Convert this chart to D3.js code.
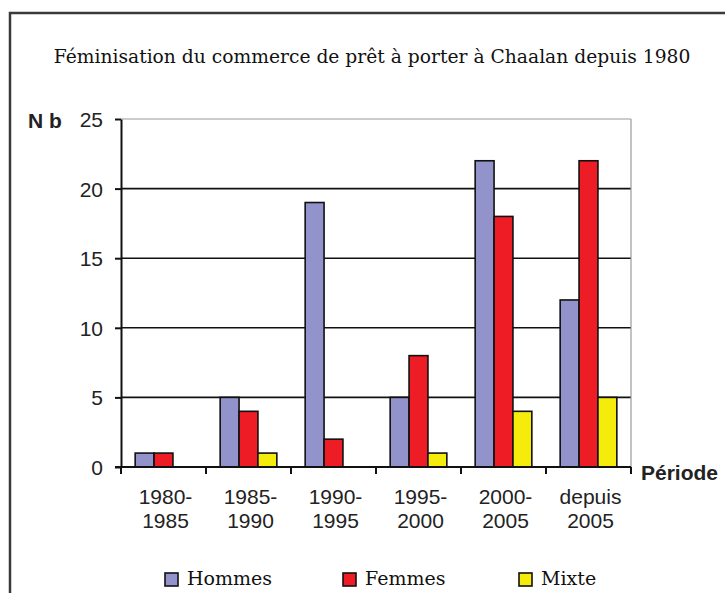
<!DOCTYPE html>
<html>
<head>
<meta charset="utf-8">
<script src="https://cdn.jsdelivr.net/npm/d3@7/dist/d3.min.js"></script>
<style>
  body { margin: 0; background: #fff; }
  svg { display: block; }
  .tick-label { font-family: "Liberation Sans", Arial, sans-serif; font-size: 21px; fill: #222; }
  .serif { font-family: "DejaVu Serif", serif; fill: #111; }
  .bold-label { font-family: "Liberation Sans", Arial, sans-serif; font-size: 21px; font-weight: bold; fill: #222; }
</style>
</head>
<body>
<div id="chart"></div>
<script>
// Data
const periods = ["1980-1985", "1985-1990", "1990-1995", "1995-2000", "2000-2005", "depuis 2005"];
const labelTop = ["1980-", "1985-", "1990-", "1995-", "2000-", "depuis"];
const labelBottom = ["1985", "1990", "1995", "2000", "2005", "2005"];
const series = ["Hommes", "Femmes", "Mixte"];
const hommes = [1, 5, 19, 5, 22, 12];
const femmes = [1, 4, 2, 8, 18, 22];
const mixte = [0, 1, 0, 1, 4, 5];
const yTicks = [0, 5, 10, 15, 20, 25];
const colors = ["#9393cb", "#ee1c24", "#f5ec0c"];

const W = 725, H = 593;
const plot = {left: 121, right: 631, top: 119, bottom: 467};

const svg = d3.select("#chart").append("svg")
    .attr("width", W)
    .attr("height", H);

// outer frame (only top and left edges are visible in the picture)
svg.append("path")
    .attr("d", `M10,${H + 5}V13H${W + 5}`)
    .attr("fill", "none")
    .attr("stroke", "#3a3a3a")
    .attr("stroke-width", 2.5);

// Title
svg.append("text")
    .attr("class", "serif")
    .attr("x", 372)
    .attr("y", 63)
    .attr("text-anchor", "middle")
    .style("font-size", "18.7px")
    .text("Féminisation du commerce de prêt à porter à Chaalan depuis 1980");

// Scales
const x = d3.scaleBand()
    .domain(periods)
    .range([plot.left, plot.right])
    .paddingInner(0)
    .paddingOuter(0);

const xs = d3.scaleBand()
    .domain(series)
    .range([0, x.bandwidth()])
    .paddingInner(0)
    .paddingOuter(0.75);

const y = d3.scaleLinear()
    .domain([0, 25])
    .range([plot.bottom, plot.top]);

// Gridlines
svg.append("g")
    .selectAll("line")
    .data(yTicks.filter(d => d > 0))
    .enter().append("line")
    .attr("x1", plot.left)
    .attr("x2", plot.right)
    .attr("y1", d => y(d))
    .attr("y2", d => y(d))
    .attr("stroke", d => d === 25 ? "#9a9a9a" : "#111")
    .attr("stroke-width", d => d === 25 ? 1.2 : 1.6);

// right border of plot area
svg.append("line")
    .attr("x1", plot.right)
    .attr("x2", plot.right)
    .attr("y1", y(25))
    .attr("y2", y(0))
    .attr("stroke", "#9a9a9a")
    .attr("stroke-width", 1.2);

// Bars
const data = periods.map((p, i) => ({period: p, values: [hommes[i], femmes[i], mixte[i]]}));

const groups = svg.append("g")
    .selectAll("g")
    .data(data)
    .enter().append("g")
    .attr("transform", d => `translate(${x(d.period)},0)`);

groups.selectAll("rect")
    .data(d => d.values.map((v, j) => ({key: series[j], value: v, color: colors[j]})).filter(b => b.value > 0))
    .enter().append("rect")
    .attr("x", d => xs(d.key))
    .attr("width", xs.bandwidth())
    .attr("y", d => y(d.value))
    .attr("height", d => y(0) - y(d.value))
    .attr("fill", d => d.color)
    .attr("stroke", "#111")
    .attr("stroke-width", 1.6);

// Y axis
const yAxis = svg.append("g")
    .attr("transform", `translate(${plot.left},0)`)
    .call(d3.axisLeft(y).tickValues(yTicks).tickSize(6).tickSizeOuter(0).tickPadding(12));
yAxis.select(".domain").attr("stroke", "#111").attr("stroke-width", 2);
yAxis.selectAll(".tick line").attr("stroke", "#111").attr("stroke-width", 2);
yAxis.selectAll(".tick text")
    .attr("class", "tick-label")
    .attr("dy", "0.36em");
yAxis.attr("font-family", null).attr("font-size", null);

// X axis: ticks on band boundaries
svg.append("line")
    .attr("x1", plot.left - 6)
    .attr("x2", plot.right)
    .attr("y1", y(0))
    .attr("y2", y(0))
    .attr("stroke", "#111")
    .attr("stroke-width", 2);

svg.append("g")
    .selectAll("line")
    .data(periods.concat(["end"]))
    .enter().append("line")
    .attr("x1", (d, i) => i < periods.length ? x(d) : plot.right)
    .attr("x2", (d, i) => i < periods.length ? x(d) : plot.right)
    .attr("y1", y(0))
    .attr("y2", y(0) + 7)
    .attr("stroke", "#111")
    .attr("stroke-width", 2);

const xLabels = svg.append("g")
    .selectAll("text")
    .data(periods)
    .enter().append("text")
    .attr("class", "tick-label")
    .attr("text-anchor", "middle")
    .attr("x", d => x(d) + x.bandwidth() / 2 + 2);
xLabels.append("tspan")
    .attr("x", d => x(d) + x.bandwidth() / 2 + 2)
    .attr("y", 504)
    .text((d, i) => labelTop[i]);
xLabels.append("tspan")
    .attr("x", d => x(d) + x.bandwidth() / 2 + 2)
    .attr("y", 528)
    .text((d, i) => labelBottom[i]);

// Axis titles
svg.append("text")
    .attr("class", "bold-label")
    .attr("x", 28)
    .attr("y", 128)
    .text("N b");

svg.append("text")
    .attr("class", "bold-label")
    .attr("x", 641)
    .attr("y", 480)
    .text("Période");

// Legend
const legendX = [165, 343, 519];
const legend = svg.append("g")
    .selectAll("g")
    .data(series)
    .enter().append("g")
    .attr("transform", (d, i) => `translate(${legendX[i]},573)`);

legend.append("rect")
    .attr("width", 13)
    .attr("height", 13)
    .attr("fill", (d, i) => colors[i])
    .attr("stroke", "#111")
    .attr("stroke-width", 1.6);

legend.append("text")
    .attr("class", "serif")
    .attr("x", 22)
    .attr("y", 12)
    .style("font-size", "19px")
    .text(d => d);
</script>
</body>
</html>
